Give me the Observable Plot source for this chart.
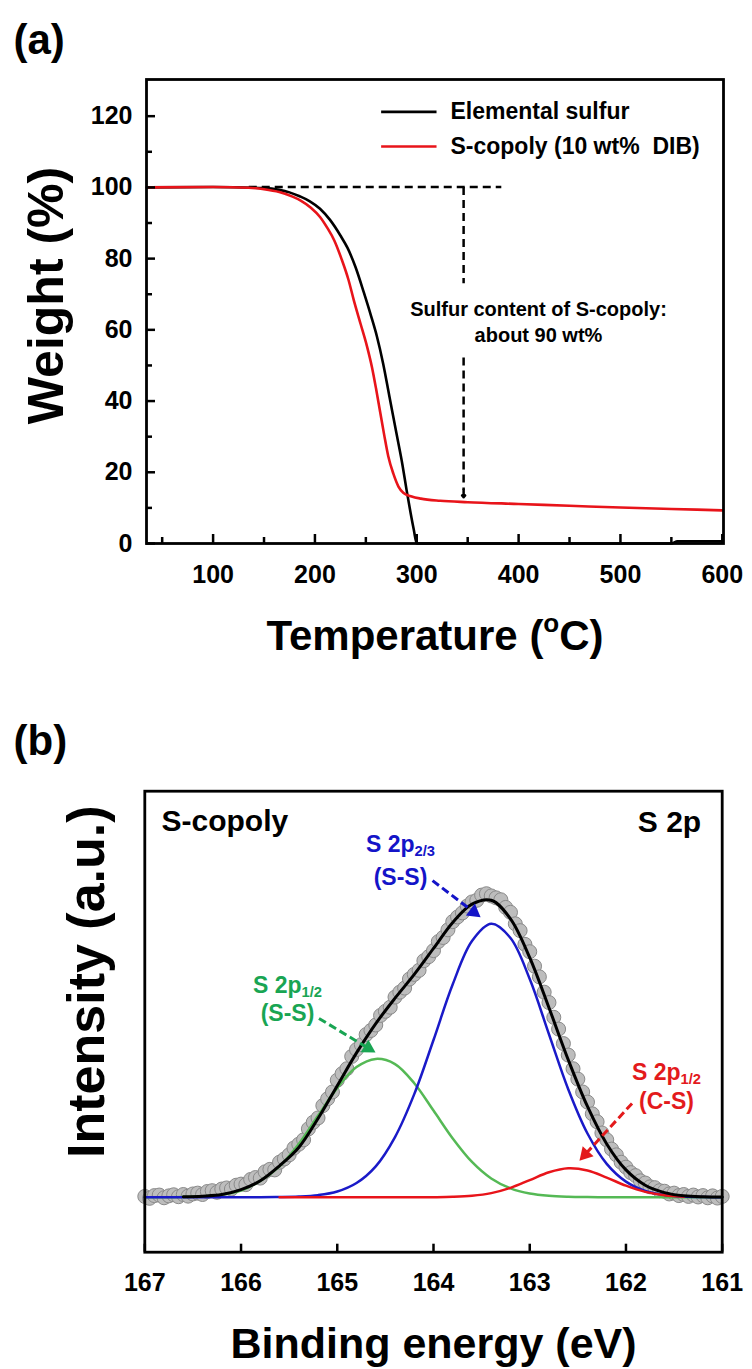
<!DOCTYPE html>
<html><head><meta charset="utf-8">
<script src="https://cdn.jsdelivr.net/npm/d3@7"></script>
<script src="https://cdn.jsdelivr.net/npm/@observablehq/plot@0.6"></script>
<style>
html,body{margin:0;padding:0;background:#fff;}
body{width:752px;height:1369px;overflow:hidden;}
#chart svg{display:block;}
text{white-space:pre;}
</style></head><body><div id="chart"></div>
<script>
// ---------- Panel (a): TGA data ----------
const tgaTempS   = [35, 100, 150, 165, 175, 185, 195, 205, 215, 225, 232, 240, 248, 255, 261, 267, 273, 280, 286, 290, 294, 297, 300, 320, 400, 500, 550, 556, 600];
const tgaWeightS = [100, 100.1, 99.8, 99.3, 98.6, 97.5, 96.1, 94, 90.8, 86.5, 83, 77.5, 70.5, 64, 58, 50.5, 41.5, 31, 22, 15, 8.5, 4, 0, 0, 0, 0, 0, 0.6, 0.6];
const tgaTempC   = [35, 100, 135, 150, 165, 178, 186, 196, 205, 212, 219, 226, 233, 238, 245, 251, 256, 260, 264, 268, 272, 277, 282, 287, 295, 304, 323, 350, 400, 450, 500, 550, 600];
const tgaWeightC = [100, 100.1, 99.9, 99.5, 98.7, 97.4, 96.3, 94.3, 91.7, 88.7, 85.1, 80, 74, 68.5, 61.5, 55.5, 49.5, 43.5, 37, 30.5, 24.5, 19.6, 16, 14.2, 13.2, 12.6, 12.0, 11.6, 11.1, 10.6, 10.1, 9.7, 9.3];
const seriesNames = ["Elemental sulfur", "S-copoly (10 wt%  DIB)"];
const tempTicks = [100, 200, 300, 400, 500, 600];
const tempMinorTicks = [50, 150, 250, 350, 450, 550];
const weightTicks = [0, 20, 40, 60, 80, 100, 120];
const weightMinorTicks = [10, 30, 50, 70, 90, 110];
const sulfurNote = "Sulfur content of S-copoly:\nabout 90 wt%";

// ---------- Panel (b): XPS S 2p data ----------
const energyTicks = [167, 166, 165, 164, 163, 162, 161];
const fitEnergy = [167, 166.8, 166.6, 166.4, 166.2, 166.0, 165.8, 165.6, 165.4, 165.2, 165.0, 164.8, 164.6, 164.4, 164.2, 164.0, 163.8, 163.6, 163.4, 163.2, 163.0, 162.8, 162.6, 162.4, 162.2, 162.0, 161.8, 161.6, 161.4, 161.2, 161.0];
const fitTotal = [null, null, 0.15, 0.4, 1.0, 2.8, 6.0, 11.5, 18.2, 28.8, 40.8, 52.8, 63.5, 72.8, 81.5, 91.0, 100.5, 107.2, 108.6, 101.8, 87.6, 69.3, 50.3, 33.2, 19.5, 10.0, 4.4, 1.7, 0.55, 0.15, 0.05];
const fitSS32 = [0, 0, 0, 0, 0, 0, 0.02, 0.07, 0.25, 0.77, 2.1, 5.2, 11.3, 22.0, 37.7, 57.5, 77.9, 93.7, 100, 94.8, 79.8, 59.6, 39.5, 23.3, 12.2, 5.7, 2.3, 0.86, 0.28, 0.08, 0.02];
const fitSS12 = [0.01, 0.03, 0.10, 0.33, 0.93, 2.4, 6.0, 11.3, 19.5, 29.8, 40.0, 47.6, 50.6, 48.7, 41.7, 31.7, 21.5, 12.9, 6.85, 3.24, 1.36, 0.51, 0.17, 0.05, 0.01, 0, 0, 0, 0, 0, 0];
const fitCS12 = [null, null, null, null, null, null, null, 0, 0, 0, 0, 0, 0, 0, 0.01, 0.03, 0.14, 0.52, 1.5, 3.44, 6.27, 9.12, 10.57, 9.77, 7.18, 4.22, 1.97, 0.73, 0.22, null, null];
const dataEnergy = [167.00,166.95,166.90,166.85,166.80,166.75,166.70,166.65,166.60,166.55,
  166.50,166.45,166.40,166.35,166.30,166.25,166.20,166.15,166.10,166.05,
  166.00,165.95,165.90,165.85,165.80,165.75,165.70,165.65,165.60,165.55,
  165.50,165.45,165.40,165.35,165.30,165.25,165.20,165.15,165.10,165.05,
  165.00,164.95,164.90,164.85,164.80,164.75,164.70,164.65,164.60,164.55,
  164.50,164.45,164.40,164.35,164.30,164.25,164.20,164.15,164.10,164.05,
  164.00,163.95,163.90,163.85,163.80,163.75,163.70,163.65,163.60,163.55,
  163.50,163.45,163.40,163.35,163.30,163.25,163.20,163.15,163.10,163.05,
  163.00,162.95,162.90,162.85,162.80,162.75,162.70,162.65,162.60,162.55,
  162.50,162.45,162.40,162.35,162.30,162.25,162.20,162.15,162.10,162.05,
  162.00,161.95,161.90,161.85,161.80,161.75,161.70,161.65,161.60,161.55,
  161.50,161.45,161.40,161.35,161.30,161.25,161.20,161.15,161.10,161.05,161.00];
const dataCounts = [0.3,-0.4,0.6,0.8,-0.2,0.5,0.9,0.2,1.0,0.4,
  1.2,1.5,1.0,2.1,2.4,1.8,3.0,3.4,3.0,4.4,
  4.8,4.6,6.5,7.2,7.0,9.3,10.2,10.0,12.8,14.0,
  15.5,18.0,19.4,21.0,25.0,27.4,29.0,33.5,36.0,38.5,
  42.8,45.2,47.0,51.5,54.0,55.8,59.5,61.0,63.0,66.5,
  68.0,69.5,73.2,75.0,76.5,79.8,81.5,83.0,86.5,88.0,
  90.2,93.5,95.0,97.8,100.8,102.5,104.0,106.5,108.0,108.6,
  110.5,111.0,110.2,109.5,108.8,106.0,104.2,100.0,97.5,92.5,
  89.8,84.5,80.6,75.0,71.2,65.8,61.5,56.2,52.0,47.0,
  43.2,38.5,34.8,30.5,27.6,23.5,21.0,17.6,15.5,12.8,
  11.0,9.0,7.9,6.0,5.2,3.8,3.5,2.4,2.2,1.2,
  1.5,0.6,1.0,0.3,0.8,0.1,0.6,-0.2,0.5,-0.3,0.3];
const peakLabels = ["S 2p_{2/3}", "S 2p_{1/2}", "S 2p_{1/2}"];
const bondLabels = ["(S-S)", "(S-S)", "(C-S)"];

// ---------- Annotation anchors (data units) ----------
const labelE = [164.343, 165.517, 161.579];
const label1V = [128.9, 77.4, 45.5];
const label2V = [116.9, 67.2, 34.9];
const arrowStartE = [164.010, 165.190, 161.937];
const arrowStartV = [115.8, 65.4, 34.3];
const arrowTipE = [163.511, 164.603, 162.483];
const arrowTipV = [102.4, 52.9, 13.4];

// ---------- Styles / layout ----------
const FONT = '"Liberation Sans", Arial, Helvetica, sans-serif';
const W = 752;
const RED = "#e8141a";
const peakColors = ["#1414c8", "#19a553", "#e31a1c"];
const lineColors = {ss32: "#1a1ac8", ss12: "#55b955", cs12: "#e8141a"};
const A = {h: 690, mt: 79, mr: 29, mb: 147, ml: 146, x: [34.6, 601.2], y: [0, 130.3]};
const Bl = {h: 679, mt: 100.7, mr: 30.3, mb: 117.3, ml: 144.3, x: [167, 161], y: [-20.1, 148.5]};
const guide = {x1: 135, x2: 383, y: 100.1, ax: 346, upTo: 73.1, lowFrom: 52.2, lowTo: 15.0, tip: 13.0};
const noteAt = {x: 419.5, y: 62.6};
const legendAt = {x1: 265, x2: 319.4, xt: 333.1, ys: [121.2, 111.5]};

function rich(svg) {
  svg.querySelectorAll("text").forEach(t => {
    if (t.children.length) return;
    const s = t.textContent;
    if (!/[_^]\{/.test(s)) return;
    const fs = parseFloat(getComputedStyle(t).fontSize) || 20;
    t.textContent = "";
    let shift = 0;
    s.split(/([_^]\{[^}]*\})/).forEach(part => {
      if (!part) return;
      const m = part.match(/^([_^])\{(.*)\}$/);
      const ts = document.createElementNS("http://www.w3.org/2000/svg", "tspan");
      if (m) {
        const d = m[1] === "_" ? 0.17 * fs : -0.42 * fs;
        ts.setAttribute("dy", d - shift); shift = d;
        ts.setAttribute("font-size", (m[1] === "_" ? 0.64 : 0.62) * fs);
        ts.textContent = m[2];
      } else {
        if (shift) ts.setAttribute("dy", -shift);
        shift = 0;
        ts.textContent = part;
      }
      t.appendChild(ts);
    });
  });
}

// ---------- Build panel (a) ----------
const rowsS = tgaTempS.map((t, i) => ({t, w: tgaWeightS[i]}));
const rowsC = tgaTempC.map((t, i) => ({t, w: tgaWeightC[i]}));
const legendRows = seriesNames.map((name, i) => ({name, y: legendAt.ys[i], c: i ? RED : "#000"}));

const plotA = Plot.plot({
  width: W, height: A.h,
  marginTop: A.mt, marginRight: A.mr, marginBottom: A.mb, marginLeft: A.ml,
  x: {domain: A.x}, y: {domain: A.y},
  color: {type: "identity"},
  style: {fontFamily: FONT, fontWeight: "bold", fontSize: "25px", color: "#000", background: "#fff", overflow: "visible"},
  marks: [
    Plot.link([guide], {x1: "x1", x2: "x2", y1: "y", y2: "y", stroke: "#000", strokeWidth: 2.5, strokeDasharray: "8,5"}),
    Plot.link([guide], {x1: "ax", x2: "ax", y1: "y", y2: "upTo", stroke: "#000", strokeWidth: 2.5, strokeDasharray: "8,5"}),
    Plot.link([guide], {x1: "ax", x2: "ax", y1: "lowFrom", y2: "lowTo", stroke: "#000", strokeWidth: 2.5, strokeDasharray: "8,5"}),
    Plot.arrow([guide], {x1: "ax", x2: "ax", y1: "lowTo", y2: "tip", stroke: "#000", strokeWidth: 2.5, headLength: 11, headAngle: 80}),
    Plot.line(rowsS, {x: "t", y: "w", stroke: "#000", strokeWidth: 2.6, curve: "monotone-x"}),
    Plot.line(rowsC, {x: "t", y: "w", stroke: RED, strokeWidth: 2.6, curve: "monotone-x"}),
    Plot.text([sulfurNote], {x: noteAt.x, y: noteAt.y, text: d => d, fontSize: 20, textAnchor: "middle", lineAnchor: "middle", lineHeight: 1.3}),
    Plot.link(legendRows, {x1: legendAt.x1, x2: legendAt.x2, y1: "y", y2: "y", stroke: "c", strokeWidth: 2.6}),
    Plot.text(legendRows, {x: legendAt.xt, y: "y", text: "name", fontSize: 23, textAnchor: "start", lineAnchor: "middle"}),
    Plot.axisX({ticks: tempTicks, tickSize: -9, tickPadding: 31, tickFormat: d3.format("d"), strokeWidth: 2.5, fontSize: 25, label: null}),
    Plot.axisX({ticks: tempMinorTicks, tickSize: -6, tickFormat: () => "", strokeWidth: 2.5, label: null}),
    Plot.axisY({ticks: weightTicks, tickSize: -9, tickPadding: 23, tickFormat: d3.format("d"), strokeWidth: 2.5, fontSize: 25, label: null}),
    Plot.axisY({ticks: weightMinorTicks, tickSize: -6, tickFormat: () => "", strokeWidth: 2.5, label: null}),
    Plot.frame({stroke: "#000", strokeWidth: 2.8}),
    Plot.text(["Weight (%)"], {frameAnchor: "left", text: d => d, rotate: -90, dx: -100, dy: -16, fontSize: 50, textAnchor: "middle", lineAnchor: "middle"}),
    Plot.text(["Temperature (^{o}C)"], {frameAnchor: "bottom", text: d => d, dy: 92.6, fontSize: 42, textAnchor: "middle", lineAnchor: "middle"}),
    Plot.text(["(a)"], {frameAnchor: "top-left", text: d => d, dx: -133, dy: -39, fontSize: 42, textAnchor: "start", lineAnchor: "middle"})
  ]
});

// ---------- Build panel (b) ----------
const fitRows = key => fitEnergy.map((e, i) => ({e, v: key[i]})).filter(d => d.v != null);
const dotRows = dataEnergy.map((e, i) => ({e, v: dataCounts[i]}));
const bX = d3.scaleLinear(Bl.x, [Bl.ml, W - Bl.mr]);
const bY = d3.scaleLinear(Bl.y, [Bl.h - Bl.mb, Bl.mt]);
const arrows = arrowTipE.map((e, i) => {
  const x1 = bX(arrowStartE[i]), y1 = bY(arrowStartV[i]), x2 = bX(e), y2 = bY(arrowTipV[i]);
  const L = Math.hypot(x2 - x1, y2 - y1), ux = (x2 - x1) / L, uy = (y2 - y1) / L;
  return {
    e0: arrowStartE[i], v0: arrowStartV[i],
    e: bX.invert(x2 - ux * 8.5), v: bY.invert(y2 - uy * 8.5),
    rot: Math.atan2(ux, -uy) * 180 / Math.PI, c: peakColors[i]
  };
});
const labelRows = peakLabels.map((p, i) => ({p, b: bondLabels[i], e: labelE[i], v1: label1V[i], v2: label2V[i], c: peakColors[i]}));

const plotB = Plot.plot({
  width: W, height: Bl.h,
  marginTop: Bl.mt, marginRight: Bl.mr, marginBottom: Bl.mb, marginLeft: Bl.ml,
  x: {domain: Bl.x}, y: {domain: Bl.y, axis: null},
  color: {type: "identity"},
  style: {fontFamily: FONT, fontWeight: "bold", fontSize: "25px", color: "#000", background: "#fff", overflow: "visible"},
  marks: [
    Plot.dot(dotRows, {x: "e", y: "v", r: 7, fill: "#bdbdbd", stroke: "#8a8a8a", strokeWidth: 1}),
    Plot.line(fitRows(fitSS12), {x: "e", y: "v", stroke: lineColors.ss12, strokeWidth: 2.5, curve: "catmull-rom"}),
    Plot.line(fitRows(fitSS32), {x: "e", y: "v", stroke: lineColors.ss32, strokeWidth: 2.5, curve: "catmull-rom"}),
    Plot.line(fitRows(fitCS12), {x: "e", y: "v", stroke: lineColors.cs12, strokeWidth: 2.5, curve: "catmull-rom"}),
    Plot.line(fitRows(fitTotal), {x: "e", y: "v", stroke: "#000", strokeWidth: 3, curve: "catmull-rom"}),
    Plot.link(arrows, {x1: "e0", y1: "v0", x2: "e", y2: "v", stroke: "c", strokeWidth: 3, strokeDasharray: "8,4"}),
    Plot.dot(arrows, {x: "e", y: "v", symbol: "triangle", r: 5.5, fill: "c", stroke: null, rotate: "rot"}),
    Plot.text(labelRows, {x: "e", y: "v1", text: "p", fill: "c", fontSize: 23, textAnchor: "middle", lineAnchor: "middle"}),
    Plot.text(labelRows, {x: "e", y: "v2", text: "b", fill: "c", fontSize: 23, textAnchor: "middle", lineAnchor: "middle"}),
    Plot.text(["S-copoly"], {frameAnchor: "top-left", text: d => d, dx: 16.7, dy: 30.3, fontSize: 30, textAnchor: "start", lineAnchor: "middle"}),
    Plot.text(["S 2p"], {frameAnchor: "top-right", text: d => d, dx: -21, dy: 31, fontSize: 30, textAnchor: "end", lineAnchor: "middle"}),
    Plot.axisX({ticks: energyTicks, tickSize: -8, tickPadding: 29.3, tickFormat: d3.format("d"), strokeWidth: 2.5, fontSize: 25, label: null}),
    Plot.frame({stroke: "#000", strokeWidth: 2.8}),
    Plot.text(["Intensity (a.u.)"], {frameAnchor: "left", text: d => d, rotate: -90, dx: -57, dy: -40, fontSize: 52, textAnchor: "middle", lineAnchor: "middle"}),
    Plot.text(["Binding energy (eV)"], {frameAnchor: "bottom", text: d => d, dy: 92.5, fontSize: 43, textAnchor: "middle", lineAnchor: "middle"}),
    Plot.text(["(b)"], {frameAnchor: "top-left", text: d => d, dx: -131.3, dy: -50, fontSize: 42, textAnchor: "start", lineAnchor: "middle"})
  ]
});

const root = document.getElementById("chart");
root.appendChild(plotA);
root.appendChild(plotB);
rich(plotA);
rich(plotB);
</script>
</body></html>
